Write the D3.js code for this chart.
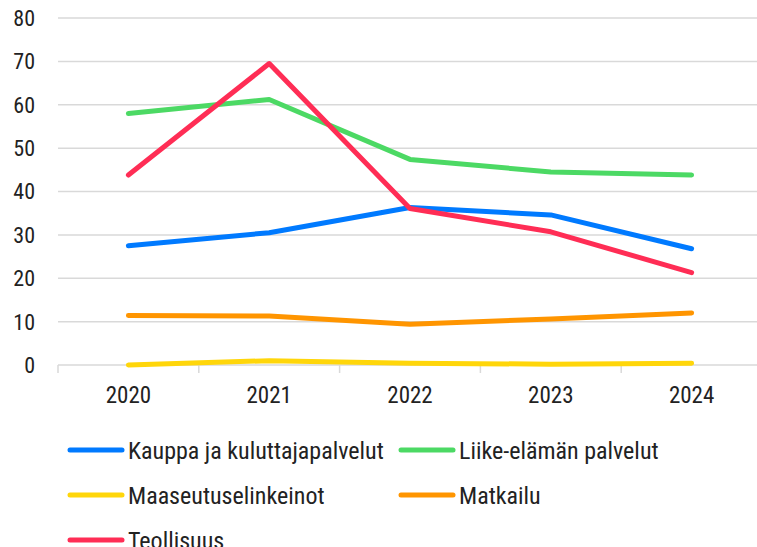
<!DOCTYPE html>
<html>
<head>
<meta charset="utf-8">
<script src="https://cdn.jsdelivr.net/npm/d3@7"></script>
<style>
  body { margin: 0; background: #fff; }
  text { font-family: "Roboto Condensed", "Liberation Sans Narrow", sans-serif; fill: #222; }
</style>
</head>
<body>
<div id="chart"></div>
<script>
// Data
const years = ["2020", "2021", "2022", "2023", "2024"];
const yTicks = [0, 10, 20, 30, 40, 50, 60, 70, 80];

const kauppa = [27.5, 30.5, 36.3, 34.6, 26.8];
const liike = [58.0, 61.2, 47.4, 44.5, 43.8];
const maaseutu = [0.0, 1.0, 0.4, 0.2, 0.4];
const matkailu = [11.4, 11.3, 9.4, 10.6, 12.0];
const teollisuus = [43.8, 69.5, 36.1, 30.7, 21.3];

const seriesNames = ["Kauppa ja kuluttajapalvelut", "Liike-elämän palvelut", "Maaseutuselinkeinot", "Matkailu", "Teollisuus"];
const seriesValues = [kauppa, liike, maaseutu, matkailu, teollisuus];
const seriesColors = ["#007aff", "#4cd964", "#ffd60a", "#ff9500", "#ff2d55"];

function drawChart() {
    const W = 757, H = 547;
    const margin = {left: 58, top: 18, right: -5, bottom: 182};
    const width = W - margin.left - margin.right,
          height = H - margin.top - margin.bottom;

    const svg = d3.select("#chart").append("svg")
        .attr("width", W)
        .attr("height", H);

    const g = svg.append("g")
        .attr("transform", `translate(${margin.left},${margin.top})`);

    const x = d3.scaleBand().domain(years).range([0, width]);
    const y = d3.scaleLinear().domain([0, 80]).range([height, 0]);

    // Gridlines
    g.selectAll(".grid")
        .data(yTicks.filter(d => d > 0))
        .enter().append("line")
        .attr("x1", 0).attr("x2", width)
        .attr("y1", d => y(d)).attr("y2", d => y(d))
        .attr("stroke", "#d9d9d9")
        .attr("stroke-width", 1.5);

    // Y axis labels
    g.selectAll(".ylab")
        .data(yTicks)
        .enter().append("text")
        .attr("x", -23)
        .attr("y", d => y(d))
        .attr("dy", "0.36em")
        .attr("text-anchor", "end")
        .style("font-size", "22px")
        .text(d => d);

    // X axis line and ticks
    g.append("line")
        .attr("x1", 0).attr("x2", width)
        .attr("y1", height).attr("y2", height)
        .attr("stroke", "#d9d9d9")
        .attr("stroke-width", 1.5);

    g.selectAll(".xtick")
        .data(years.concat(["end"]))
        .enter().append("line")
        .attr("x1", (d, i) => i * x.step())
        .attr("x2", (d, i) => i * x.step())
        .attr("y1", height).attr("y2", height + 8)
        .attr("stroke", "#d9d9d9")
        .attr("stroke-width", 1.5);

    g.selectAll(".xlab")
        .data(years)
        .enter().append("text")
        .attr("x", d => x(d) + x.bandwidth() / 2)
        .attr("y", height + 38)
        .attr("text-anchor", "middle")
        .style("font-size", "23px")
        .text(d => d);

    // Lines
    const line = d3.line()
        .x((d, i) => x(years[i]) + x.bandwidth() / 2)
        .y(d => y(d));

    const drawOrder = [3, 2, 0, 1, 4];
    drawOrder.forEach(i => {
        g.append("path")
            .datum(seriesValues[i])
            .attr("d", line)
            .attr("fill", "none")
            .attr("stroke", seriesColors[i])
            .attr("stroke-width", 5)
            .attr("stroke-linecap", "round")
            .attr("stroke-linejoin", "round");
    });

    // Legend (two columns, last row cut by the bottom edge as in the original)
    const legend = svg.append("g");
    seriesNames.forEach((name, i) => {
        const col = i % 2, row = Math.floor(i / 2);
        const lx = 70 + col * 331, ly = 450 + row * 45;
        legend.append("line")
            .attr("x1", lx).attr("x2", lx + 52)
            .attr("y1", ly).attr("y2", ly)
            .attr("stroke", seriesColors[i])
            .attr("stroke-width", 5)
            .attr("stroke-linecap", "round");
        legend.append("text")
            .attr("x", lx + 58)
            .attr("y", ly)
            .attr("dy", "0.36em")
            .style("font-size", "24px")
            .text(name);
    });
}

drawChart();
</script>
</body>
</html>
